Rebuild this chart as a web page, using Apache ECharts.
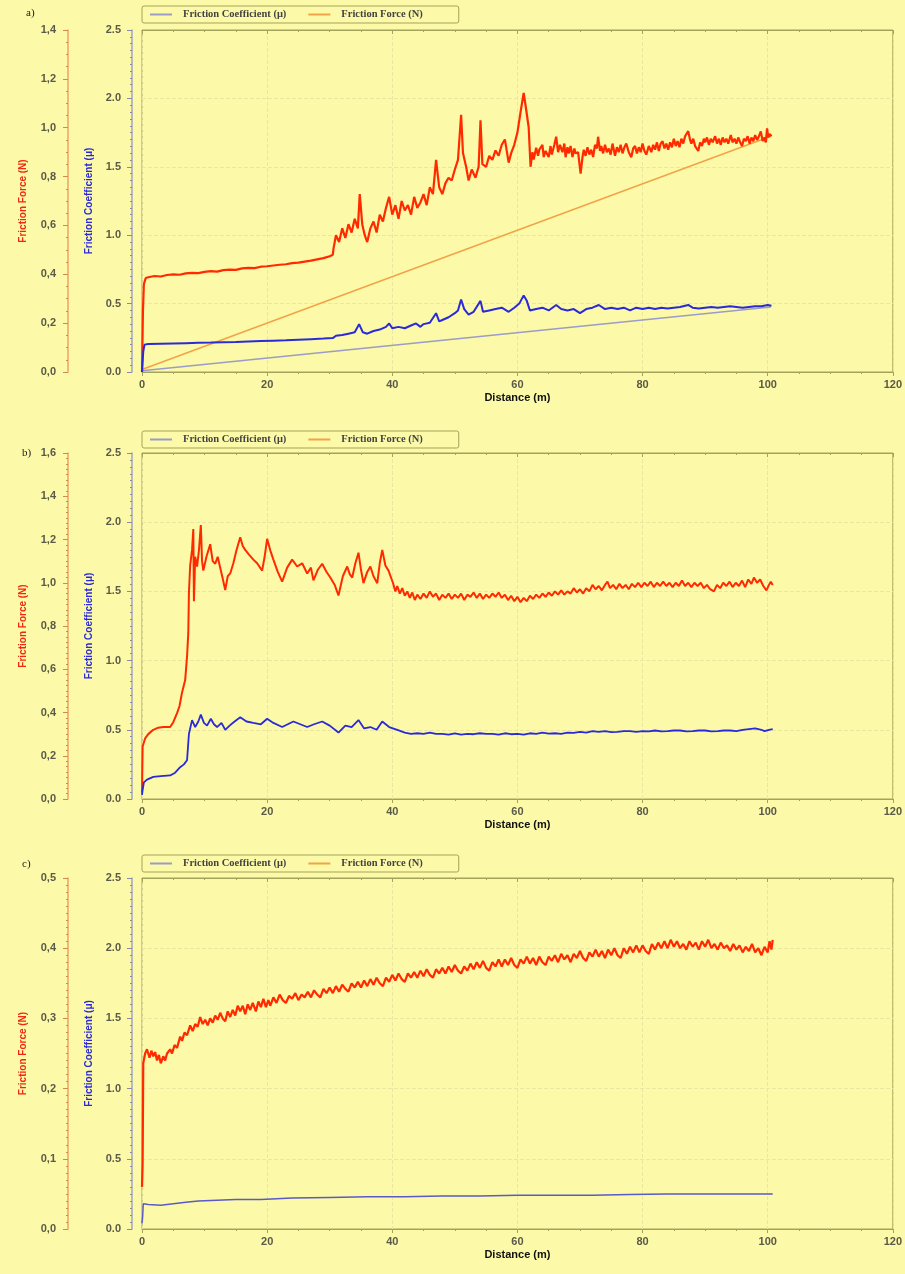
<!DOCTYPE html>
<html><head><meta charset="utf-8">
<script src="https://cdn.jsdelivr.net/npm/echarts@6/dist/echarts.min.js"></script>
<style>html,body{margin:0;padding:0;background:#fcf9a8;}#c{width:905px;height:1274px;}</style>
</head><body><div id="c"></div>
<script>
// ---------- DATA ----------
const xTicks = [0, 20, 40, 60, 80, 100, 120];
const legendNames = ['Friction Coefficient (μ)', 'Friction Force (N)'];
const panelLabels = ['a)', 'b)', 'c)'];
const forceMax = [1.4, 1.6, 0.5];
const forceInterval = [0.2, 0.2, 0.1];
const forceMinor = [4, 8, 10];

// Panel a: linear ramps (Distance m, value)
const rampCoefA = [[0, 0.01], [100.5, 0.475]];
const rampForceA = [[0, 0.01], [100.5, 0.965]];

// Panel a: friction force (N)
const forceA = [[0,0],[0.15,0.25],[0.3,0.36],[0.6,0.385],[1,0.388],[2,0.393],[3,0.391],[4,0.397],[5,0.400],[6,0.398],[7,0.404],[8,0.406],[9,0.405],[10,0.410],[11,0.413],[12,0.411],[13,0.417],[14,0.419],[15,0.418],[16,0.424],[17,0.426],[18,0.425],[19,0.431],[20,0.433],[21,0.436],[22,0.439],[23,0.441],[24,0.446],[25,0.448],[26,0.452],[27,0.456],[28,0.461],[29,0.466],[30,0.474],[30.5,0.48],
[30.6,0.504],[31,0.560],[31.5,0.532],[32,0.588],[32.5,0.549],[33,0.605],[33.5,0.571],[34,0.627],[34.5,0.588],[34.8,0.728],[35.2,0.605],[35.6,0.560],[36,0.532],[36.5,0.588],[37,0.616],[37.5,0.571],[38,0.644],[38.5,0.616],[39,0.672],[39.5,0.717],[40,0.644],[40.5,0.683],[41,0.627],[41.5,0.700],[42,0.661],[42.5,0.683],[43,0.644],[43.5,0.717],[44,0.672],[44.5,0.694],[45,0.728],[45.5,0.683],[46,0.756],[46.5,0.728],[47,0.868],[47.5,0.756],[48,0.728],[48.5,0.773],[49,0.795],[49.5,0.784],[50,0.829],[50.5,0.868],[51,1.053],[51.3,0.896],[51.8,0.840],[52.2,0.784],[52.7,0.829],[53.3,0.795],[53.8,0.840],[54.1,1.030],[54.4,0.851],[55,0.840],[55.5,0.885],[56,0.868],[56.5,0.907],[57,0.885],[57.5,0.930],[58,0.952],[58.6,0.857],[59,0.896],[59.5,0.930],[60,0.980],[60.5,1.064],[61,1.142],[61.3,1.092],[61.8,1.002],[62.1,0.840],[62.4,0.900],[62.6,0.870],[63,0.918],[63.3,0.885],[63.5,0.910],[64,0.930],[64.2,0.880],[64.5,0.905],[65,0.880],[65.3,0.925],[65.5,0.890],[65.9,0.930],[66.2,0.963],[66.5,0.900],[66.8,0.930],[67.2,0.900],[67.5,0.935],[67.7,0.879],[68,0.920],[68.2,0.895],[68.5,0.925],[68.8,0.880],[69.1,0.915],[69.3,0.895],[69.7,0.900],[70.1,0.812],[70.4,0.880],[70.6,0.910],[70.9,0.885],[71.2,0.920],[71.5,0.890],[71.8,0.910],[72.1,0.880],[72.4,0.930],[72.7,0.915],[72.9,0.963],[73.2,0.905],[73.4,0.925],[73.7,0.895],[74,0.930],[74.3,0.900],[74.6,0.915],[74.9,0.890],[75.2,0.935],[75.6,0.885],[75.9,0.920],[76.2,0.900],[76.5,0.930],[76.8,0.895],[77.1,0.920],[77.4,0.935],[77.8,0.900],[78.2,0.879],[78.5,0.915],[78.8,0.925],[79.1,0.895],[79.4,0.920],[79.7,0.900],[80,0.935],[80.3,0.905],[80.6,0.890],[81,0.925],[81.4,0.900],[81.7,0.930],[82,0.910],[82.3,0.940],[82.6,0.905],[82.9,0.935],[83.2,0.945],[83.5,0.915],[83.8,0.935],[84.1,0.910],[84.4,0.940],[84.7,0.920],[85,0.955],[85.3,0.925],[85.6,0.945],[85.9,0.920],[86.2,0.955],[86.5,0.935],[86.8,0.965],[87.3,0.986],[87.6,0.950],[87.8,0.935],[88.1,0.955],[88.4,0.925],[88.9,0.905],[89.2,0.940],[89.5,0.925],[89.8,0.955],[90,0.940],[90.3,0.960],[90.6,0.930],[90.9,0.955],[91.2,0.940],[91.6,0.965],[91.9,0.935],[92.2,0.955],[92.5,0.930],[92.8,0.960],[93.1,0.940],[93.4,0.955],[93.7,0.935],[94.1,0.970],[94.4,0.940],[94.7,0.955],[95,0.935],[95.3,0.960],[95.6,0.940],[95.9,0.925],[96.2,0.955],[96.5,0.945],[96.8,0.965],[97.1,0.935],[97.4,0.960],[97.7,0.945],[98,0.970],[98.3,0.950],[98.6,0.965],[98.9,0.985],[99.2,0.945],[99.4,0.960],[99.7,0.940],[99.9,0.997],[100.1,0.960],[100.3,0.975],[100.6,0.965]];

// Panel a: friction coefficient (μ)
const coefA = [[0,0],[0.2,0.15],[0.4,0.2],[1,0.205],[3,0.207],[5,0.209],[7,0.211],[9,0.213],[11,0.215],[13,0.218],[15,0.220],[17,0.223],[19,0.226],[21,0.229],[23,0.232],[25,0.236],[27,0.240],[29,0.244],[30.5,0.248],[31,0.265],[32,0.27],[33,0.28],[34,0.29],[34.7,0.35],[35.3,0.29],[36,0.28],[37,0.30],[38,0.31],[39,0.33],[39.5,0.355],[40,0.32],[41,0.33],[42,0.32],[43,0.34],[43.8,0.355],[44.5,0.33],[45,0.35],[46,0.36],[47,0.43],[47.5,0.37],[48,0.38],[49,0.40],[50,0.43],[50.5,0.45],[51,0.53],[51.5,0.46],[52.2,0.42],[53,0.44],[54.1,0.52],[54.5,0.44],[55.5,0.45],[56.5,0.46],[57.5,0.47],[58.6,0.44],[59.5,0.47],[60.3,0.50],[61,0.56],[61.5,0.52],[62,0.45],[63,0.46],[64,0.47],[65,0.45],[66.2,0.49],[67,0.46],[68,0.45],[69,0.46],[70,0.43],[71,0.46],[72,0.47],[73,0.49],[74,0.46],[75,0.47],[76,0.46],[77,0.47],[78,0.45],[79,0.47],[80,0.46],[81,0.47],[82,0.46],[83,0.47],[84,0.465],[85,0.47],[86,0.475],[87.3,0.49],[88,0.47],[89,0.465],[90,0.47],[91,0.475],[92,0.47],[93,0.475],[94,0.48],[95,0.475],[96,0.47],[97,0.475],[98,0.48],[99,0.48],[100,0.49],[100.6,0.485]];

// Panel b: friction force (N)
const forceB = [[0,0.03],[0.1,0.243],[0.5,0.28],[1,0.30],[1.8,0.320],[2.6,0.330],[3.4,0.333],[4.5,0.333],[5.0,0.355],[5.6,0.397],[6.0,0.43],[6.4,0.493],[6.9,0.550],[7.2,0.66],[7.4,0.768],[7.5,0.954],[7.7,1.08],[8.0,1.152],[8.2,1.248],[8.3,0.915],[8.5,1.12],[8.8,1.075],[9.1,1.15],[9.4,1.267],[9.6,1.10],[9.8,1.056],[10.3,1.12],[10.9,1.178],[11.3,1.10],[11.7,1.088],[12.1,1.12],[12.5,1.069],[12.9,1.02],[13.3,0.966],[13.7,1.03],[14.1,1.043],[14.6,1.09],[15.1,1.15],[15.7,1.210],[16.1,1.17],[16.5,1.152],[17.1,1.13],[17.8,1.107],[18.4,1.09],[19.2,1.056],[19.6,1.12],[20,1.203],[20.5,1.15],[21,1.107],[21.7,1.05],[22.4,1.005],[23.2,1.07],[24,1.107],[24.8,1.075],[25.6,1.09],[26.4,1.043],[27,1.07],[27.4,1.011],[28.1,1.06],[28.8,1.088],[29.5,1.05],[30.1,1.024],[30.8,0.99],[31.4,0.941],[32.1,1.03],[32.8,1.075],[33.2,1.04],[33.6,1.024],[34.1,1.09],[34.6,1.139],[35,1.06],[35.4,0.998],[36,1.05],[36.5,1.075],[37,1.03],[37.6,0.998],[38,1.09],[38.4,1.152],[38.9,1.08],[39.4,1.056],
[40.1,1.00],[40.5,0.96],[40.8,0.985],[41.2,0.95],[41.6,0.975],[42,0.94],[42.4,0.96],[42.8,0.93],[43.2,0.955],[43.6,0.92],[44,0.945],[44.5,0.925],[45,0.95],[45.5,0.93],[46,0.96],[46.5,0.935],[47,0.95],[47.5,0.92],[48,0.945],[48.5,0.93],[49,0.95],[49.5,0.925],[50,0.945],[50.5,0.93],[51,0.95],[51.5,0.92],[52,0.945],[52.5,0.935],[53,0.955],[53.5,0.93],[54,0.95],[54.5,0.925],[55,0.945],[55.5,0.93],[56,0.95],[56.5,0.935],[57,0.955],[57.5,0.93],[58,0.945],[58.5,0.92],[59,0.94],[59.5,0.915],[60,0.935],[60.5,0.91],[61,0.93],[61.5,0.915],[62,0.94],[62.5,0.925],[63,0.945],[63.5,0.93],[64,0.95],[64.5,0.935],[65,0.955],[65.5,0.94],[66,0.96],[66.5,0.945],[67,0.965],[67.5,0.945],[68,0.96],[68.5,0.95],[69,0.975],[69.5,0.955],[70,0.97],[70.5,0.95],[71,0.975],[71.5,0.96],[72,0.99],[72.5,0.97],[73,0.985],[73.5,0.965],[74,0.99],[74.4,1.005],[74.8,0.975],[75.3,0.99],[75.8,0.97],[76.3,0.995],[76.8,0.975],[77.3,0.99],[77.8,0.97],[78.3,0.995],[78.8,0.98],[79.3,1.0],[79.8,0.98],[80.3,1.0],[80.8,0.985],[81.3,1.005],[81.8,0.98],[82.3,1.0],[82.8,0.985],[83.3,1.005],[83.8,0.985],[84.3,1.0],[84.8,0.98],[85.3,1.0],[85.8,0.985],[86.3,1.01],[86.8,0.985],[87.3,1.0],[87.8,0.98],[88.3,1.0],[88.8,0.985],[89.3,1.0],[89.8,0.975],[90.3,0.99],[90.8,0.97],[91.4,0.96],[91.9,0.99],[92.4,0.975],[92.9,1.0],[93.4,0.985],[93.9,1.005],[94.4,0.98],[94.9,1.0],[95.4,0.985],[95.9,1.01],[96.4,0.98],[96.9,1.015],[97.4,0.995],[97.8,1.024],[98.3,1.0],[98.8,1.015],[99.3,0.985],[99.8,0.965],[100.2,0.99],[100.5,1.005],[100.8,0.99]];

// Panel b: friction coefficient (μ)
const coefB = [[0,0.03],[0.1,0.065],[0.3,0.12],[0.8,0.14],[1.8,0.16],[3,0.165],[4.5,0.17],[5.3,0.19],[6.1,0.23],[6.7,0.25],[7.2,0.28],[7.5,0.47],[8,0.57],[8.5,0.52],[9,0.56],[9.4,0.61],[9.9,0.55],[10.4,0.53],[11,0.58],[11.5,0.54],[12,0.52],[12.7,0.55],[13.3,0.50],[14,0.53],[14.8,0.56],[15.7,0.59],[16.7,0.56],[17.8,0.55],[19,0.54],[20,0.58],[21,0.55],[22.4,0.52],[23.3,0.54],[24.2,0.56],[25.3,0.54],[26.4,0.52],[27.5,0.54],[28.8,0.56],[30,0.53],[31.4,0.48],[32.5,0.53],[33.5,0.52],[34.6,0.57],[35.5,0.51],[36.5,0.52],[37.5,0.50],[38.4,0.56],[39.5,0.52],[40.8,0.50],[42,0.48],[43,0.47],[44,0.475],[45,0.47],[46,0.48],[47,0.47],[48,0.47],[49,0.465],[50,0.475],[51,0.465],[52,0.47],[53,0.468],[54,0.475],[55,0.47],[56,0.47],[57,0.465],[58,0.475],[59,0.468],[60,0.47],[61,0.465],[62,0.475],[63,0.47],[64,0.48],[65,0.472],[66,0.475],[67,0.47],[68,0.48],[69,0.478],[70,0.485],[71,0.48],[72,0.49],[73,0.485],[74,0.49],[75,0.483],[76,0.485],[77,0.49],[78,0.49],[79,0.485],[80,0.49],[81,0.488],[82,0.495],[83,0.488],[84,0.49],[85,0.495],[86,0.495],[87,0.488],[88,0.49],[89,0.495],[90,0.495],[91,0.488],[92,0.49],[93,0.495],[94,0.495],[95,0.49],[96,0.50],[97,0.505],[98,0.51],[99,0.50],[99.5,0.49],[100.2,0.50],[100.8,0.505]];

// Panel c: friction force (N)
const forceC = [[0,0.06],[0.1,0.094],[0.2,0.236],[0.5,0.25],[0.8,0.256],[1.2,0.244],[1.5,0.254],[1.8,0.246],[2.1,0.252],[2.4,0.24],[2.7,0.248],[3,0.236],[3.4,0.246],[3.7,0.24],[4,0.25],[4.5,0.256],[4.8,0.25],[5.2,0.262],[5.6,0.258],[6.1,0.274],[6.4,0.268],[6.8,0.28],[7.2,0.276],[7.7,0.29],[8.1,0.282],[8.5,0.292],[8.9,0.288],[9.3,0.302],[9.7,0.292],[10.1,0.298],[10.5,0.29],[10.9,0.3],[11.3,0.294],[11.7,0.304],[12.1,0.298],[12.5,0.308],[12.9,0.3],[13.3,0.296],[13.7,0.31],[14.1,0.302],[14.5,0.312],[14.9,0.304],[15.3,0.318],[15.7,0.31],[16.1,0.318],[16.5,0.306],[16.9,0.32],[17.3,0.312],[17.7,0.322],[18.2,0.31],[18.6,0.324],[19,0.316],[19.4,0.328],[19.8,0.316],[20.2,0.326],
[20.5,0.318],[21,0.33],[21.5,0.322],[22,0.334],[22.5,0.326],[23,0.322],[23.5,0.332],[24,0.328],[24.5,0.336],[25,0.326],[25.5,0.334],[26,0.33],[26.5,0.338],[27,0.33],[27.5,0.34],[28,0.334],[28.5,0.33],[29,0.342],[29.5,0.336],[30,0.344],[30.5,0.336],[31,0.346],[31.5,0.338],[32,0.348],[32.5,0.342],[33,0.338],[33.5,0.35],[34,0.344],[34.5,0.352],[35,0.344],[35.5,0.354],[36,0.346],[36.5,0.356],[37,0.348],[37.5,0.358],[38,0.35],[38.5,0.346],[39,0.358],[39.5,0.352],[40,0.362],[40.5,0.354],[41,0.364],[41.5,0.356],[42,0.352],[42.5,0.364],[43,0.358],[43.5,0.366],[44,0.358],[44.5,0.368],[45,0.36],[45.5,0.37],[46,0.362],[46.5,0.358],[47,0.37],[47.5,0.364],[48,0.372],[48.5,0.364],[49,0.374],[49.5,0.366],[50,0.376],[50.5,0.368],[51,0.364],[51.5,0.374],[52,0.368],[52.5,0.378],[53,0.37],[53.5,0.38],[54,0.372],[54.5,0.382],[55,0.372],[55.5,0.368],[56,0.38],[56.5,0.374],[57,0.384],[57.5,0.374],[58,0.384],[58.5,0.376],[59,0.386],[59.5,0.376],[60,0.372],[60.5,0.384],[61,0.378],[61.5,0.388],[62,0.378],[62.5,0.386],[63,0.376],[63.5,0.388],[64,0.38],[64.5,0.376],[65,0.388],[65.5,0.382],[66,0.39],[66.5,0.38],[67,0.392],[67.5,0.384],[68,0.39],[68.5,0.38],[69,0.392],[69.5,0.386],[70,0.396],[70.5,0.386],[71,0.382],[71.5,0.394],[72,0.388],[72.5,0.398],[73,0.388],[73.5,0.396],[74,0.386],[74.5,0.398],[75,0.39],[75.5,0.4],[76,0.39],[76.5,0.386],[77,0.4],[77.5,0.392],[78,0.402],[78.5,0.394],[79,0.404],[79.5,0.394],[80,0.404],[80.5,0.396],[81,0.392],[81.5,0.406],[82,0.398],[82.5,0.408],[83,0.4],[83.5,0.41],[84,0.4],[84.5,0.412],[85,0.402],[85.5,0.41],[86,0.4],[86.5,0.406],[87,0.398],[87.5,0.41],[88,0.402],[88.5,0.408],[89,0.398],[89.5,0.41],[90,0.402],[90.5,0.412],[91,0.4],[91.5,0.406],[92,0.398],[92.5,0.408],[93,0.4],[93.5,0.404],[94,0.396],[94.5,0.406],[95,0.398],[95.5,0.404],[96,0.394],[96.5,0.402],[97,0.396],[97.5,0.406],[98,0.394],[98.5,0.4],[99,0.39],[99.5,0.402],[100,0.394],[100.3,0.41],[100.6,0.398],[100.8,0.412]];

// Panel c: friction coefficient (μ)
const coefC = [[0,0.04],[0.1,0.085],[0.2,0.18],[1,0.175],[3,0.17],[5,0.18],[7,0.19],[9,0.20],[12,0.205],[15,0.21],[19,0.21],[24,0.22],[30,0.225],[36,0.23],[42,0.23],[48,0.235],[54,0.235],[60,0.24],[66,0.24],[72,0.24],[78,0.245],[84,0.25],[90,0.25],[96,0.25],[100.8,0.25]];

// ---------- STYLE / LAYOUT ----------
const BG = '#fcf9a8';
const OLIVE = '#a3a35a';
const GRIDLINE = '#ebe6a2';
const COEF_AXIS = '#a3a3c4';
const FORCE_AXIS = '#eea463';
const RED = '#ff2a00';
const BLUE = '#2a2ad8';
const RAMP_COEF = '#9c9cc8';
const RAMP_FORCE = '#f3a347';
const LABEL = '#5a5a48';

const grids = [
  {left: 142, right: 9, top: 30, height: 342},
  {left: 142, right: 9, top: 453, height: 346},
  {left: 142, right: 9, top: 878, height: 351}
];
const legendTops = [6, 431, 855];
const labelPos = [[26, 8], [22, 448], [22, 859]];

const xAxes = [], yAxes = [], legends = [], graphics = [];
grids.forEach((g, i) => {
  xAxes.push({
    type: 'value', gridIndex: i, min: 0, max: 120, interval: 20,
    name: 'Distance (m)', nameLocation: 'middle', nameGap: 20,
    nameTextStyle: {fontSize: 11, fontWeight: 'bold', color: '#111', fontFamily: 'Liberation Sans'},
    axisLine: {show: true, onZero: false, lineStyle: {color: OLIVE, width: 1}},
    axisTick: {show: true, length: 4, lineStyle: {color: OLIVE}},
    minorTick: {show: true, splitNumber: 4, length: 2, lineStyle: {color: OLIVE}},
    axisLabel: {fontSize: 11, fontWeight: 'bold', color: LABEL, margin: 7, fontFamily: 'Liberation Sans'},
    splitLine: {show: true, lineStyle: {color: GRIDLINE, type: 'dashed', width: 1}}
  });
  xAxes.push({
    type: 'value', gridIndex: i, min: 0, max: 120, interval: 20, position: 'top',
    axisLine: {show: true, onZero: false, lineStyle: {color: OLIVE}},
    axisTick: {show: true, inside: true, length: 4, lineStyle: {color: OLIVE}},
    minorTick: {show: true, splitNumber: 4, length: 2, lineStyle: {color: OLIVE}},
    axisLabel: {show: false}, splitLine: {show: false}
  });
  // coefficient axis
  yAxes.push({
    type: 'value', gridIndex: i, min: 0, max: 2.5, interval: 0.5, position: 'left', offset: 10,
    name: 'Friction Coefficient (μ)', nameLocation: 'middle', nameGap: 38,
    nameTextStyle: {fontSize: 10, fontWeight: 'bold', color: '#2a2ad8', fontFamily: 'Liberation Sans'},
    axisLine: {show: true, onZero: false, lineStyle: {color: COEF_AXIS, width: 1.5}},
    axisTick: {show: true, length: 5, lineStyle: {color: '#8a8aa8'}},
    minorTick: {show: true, splitNumber: 10, length: 2, lineStyle: {color: '#8a8aa8'}},
    axisLabel: {fontSize: 11, fontWeight: 'bold', color: LABEL, margin: 11, fontFamily: 'Liberation Sans',
      formatter: v => v.toFixed(1)},
    splitLine: {show: true, lineStyle: {color: GRIDLINE, type: 'dashed', width: 1}}
  });
  // force axis
  yAxes.push({
    type: 'value', gridIndex: i, min: 0, max: forceMax[i], interval: forceInterval[i], position: 'left', offset: 74,
    name: 'Friction Force (N)', nameLocation: 'middle', nameGap: 40,
    nameTextStyle: {fontSize: 10, fontWeight: 'bold', color: '#f02a10', fontFamily: 'Liberation Sans'},
    axisLine: {show: true, onZero: false, lineStyle: {color: FORCE_AXIS, width: 1.5}},
    axisTick: {show: true, length: 5, lineStyle: {color: '#d08a50'}},
    minorTick: {show: true, splitNumber: forceMinor[i], length: 2, lineStyle: {color: '#d08a50'}},
    axisLabel: {fontSize: 11, fontWeight: 'bold', color: LABEL, margin: 12, fontFamily: 'Liberation Sans',
      formatter: v => v.toFixed(1).replace('.', ',')},
    splitLine: {show: false}
  });
  legends.push({
    data: legendNames, left: 142, top: legendTops[i], orient: 'horizontal',
    backgroundColor: BG, borderColor: OLIVE, borderWidth: 1, borderRadius: 2,
    padding: [3, 36, 3, 8], itemGap: 22, itemWidth: 22, itemHeight: 2, icon: 'rect',
    textStyle: {fontSize: 10.5, color: '#444', fontFamily: 'Liberation Serif', fontWeight: 'bold', padding: [0, 0, 0, 6]},
    selectedMode: false
  });
  graphics.push({type: 'text', left: labelPos[i][0], top: labelPos[i][1],
    style: {text: panelLabels[i], fontSize: 11, fontFamily: 'Liberation Serif', fill: '#222'}});
});

const lineS = (name, data, xi, yi, color, width, z) => ({
  name, type: 'line', data, xAxisIndex: xi, yAxisIndex: yi, symbol: 'none', showSymbol: false,
  lineStyle: {color, width}, itemStyle: {color}, animation: false, z: z || 2
});

const series = [
  lineS(legendNames[0], rampCoefA, 0, 0, RAMP_COEF, 1.5, 2),
  lineS(legendNames[1], rampForceA, 0, 1, RAMP_FORCE, 1.5, 2),
  lineS('Force a', forceA, 0, 1, RED, 2.2, 3),
  lineS('Coefficient a', coefA, 0, 0, BLUE, 2, 3),
  lineS('Force b', forceB, 2, 3, RED, 2, 3),
  lineS('Coefficient b', coefB, 2, 2, BLUE, 1.8, 3),
  lineS('Force c', forceC, 4, 5, RED, 2.2, 3),
  lineS('Coefficient c', coefC, 4, 4, '#5a5ac8', 1.5, 3)
];

const chart = echarts.init(document.getElementById('c'), null, {renderer: 'canvas'});
chart.setOption({
  backgroundColor: BG,
  animation: false,
  grid: grids.map(g => Object.assign({show: true, borderColor: OLIVE, borderWidth: 1, backgroundColor: BG}, g)),
  xAxis: xAxes,
  yAxis: yAxes,
  legend: legends,
  graphic: graphics,
  series
});
</script></body></html>
